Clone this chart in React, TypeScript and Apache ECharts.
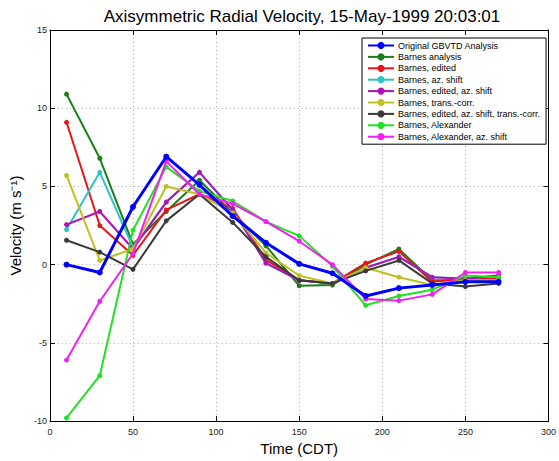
import React, { useEffect, useRef } from "react";
import * as echarts from "echarts";

const times = [10, 30, 50, 70, 90, 110, 130, 150, 170, 190, 210, 230, 250, 270];

const seriesNames = [
  "Original GBVTD Analysis",
  "Barnes analysis",
  "Barnes, edited",
  "Barnes, az. shift",
  "Barnes, edited, az. shift",
  "Barnes, trans.-corr.",
  "Barnes, edited, az. shift, trans.-corr.",
  "Barnes, Alexander",
  "Barnes, Alexander, az. shift",
];

const originalGbvtd = [0, -0.5, 3.7, 6.9, 5.1, 3.1, 1.4, 0.05, -0.55, -2.0, -1.5, -1.3, -1.1, -1.1];
const barnesAnalysis = [10.9, 6.8, 1.3, 3.4, 5.4, 3.3, 1.2, -1.35, -1.3, 0.0, 1.0, -1.0, -1.0, -0.9];
const barnesEdited = [9.1, 2.5, 0.6, 3.5, 4.5, 3.6, 0.3, -1.0, -1.2, 0.1, 0.85, -1.1, -0.9, -0.9];
const barnesAzShift = [2.25, 5.9, 1.1, 4.0, 5.9, 3.5, 0.1, -1.0, -1.2, -0.2, 0.5, -0.8, -0.9, -0.7];
const barnesEditedAzShift = [2.56, 3.4, 1.0, 4.0, 5.9, 3.5, 0.1, -1.0, -1.2, -0.2, 0.5, -0.8, -0.9, -0.7];
const barnesTransCorr = [5.7, 0.27, 1.0, 5.0, 4.5, 3.3, 0.75, -0.7, -1.2, -0.2, -0.8, -1.3, -1.0, -1.0];
const barnesEditedAzTrans = [1.56, 0.8, -0.3, 2.8, 4.5, 2.7, 0.5, -1.0, -1.2, -0.4, 0.27, -1.2, -1.4, -1.2];
const barnesAlexander = [-9.8, -7.1, 2.2, 6.25, 4.7, 4.07, 2.75, 1.84, -0.1, -2.6, -2.0, -1.6, -0.7, -0.8];
const barnesAlexanderAzShift = [-6.1, -2.34, 0.7, 6.6, 4.5, 3.9, 2.75, 1.5, 0.0, -2.2, -2.3, -1.9, -0.5, -0.5];

const allValues = [
  originalGbvtd,
  barnesAnalysis,
  barnesEdited,
  barnesAzShift,
  barnesEditedAzShift,
  barnesTransCorr,
  barnesEditedAzTrans,
  barnesAlexander,
  barnesAlexanderAzShift,
];

const colors = ["#0000ff", "#1a7f1a", "#e8141a", "#2fc4c4", "#b010b8", "#c0c020", "#3a3a3a", "#22e022", "#f020f0"];

const xTicks = { min: 0, max: 300, interval: 50 };
const yTicks = { min: -10, max: 15, interval: 5 };

const FONT = "Liberation Sans, Arial, Helvetica, sans-serif";

export default function App() {
  const ref = useRef<HTMLDivElement>(null);
  useEffect(() => {
    if (!ref.current) return;
    const chart = echarts.init(ref.current, undefined, { renderer: "svg" });
    const gridLine = { show: true, lineStyle: { color: "#b0b0b0", type: [1, 3], width: 1 } };
    const series = seriesNames.map((name, i) => ({
      name,
      type: "line",
      data: times.map((t, k) => [t, allValues[i][k]]),
      symbol: "circle",
      symbolSize: i === 0 ? 6 : 5,
      z: i === 0 ? 20 : 2 + i,
      lineStyle: { width: i === 0 ? 3 : 2, color: colors[i] },
      itemStyle: { color: colors[i] },
      emphasis: { disabled: true },
    }));
    const boxLine = { show: true, onZero: false, lineStyle: { color: "#000", width: 1 } };
    const tick = { show: true, inside: true, length: 5, lineStyle: { color: "#000" } };
    chart.setOption({
      animation: false,
      textStyle: { fontFamily: FONT },
      title: {
        text: "Axisymmetric Radial Velocity, 15-May-1999 20:03:01",
        left: 297,
        textAlign: "center",
        top: 3,
        textStyle: { fontSize: 17, fontWeight: "normal", color: "#000", fontFamily: FONT },
      },
      legend: {
        orient: "vertical",
        left: 362,
        top: 38,
        itemWidth: 26,
        itemHeight: 9,
        itemGap: 2.4,
        padding: [3, 6, 3, 5],
        backgroundColor: "#fff",
        borderColor: "#000",
        borderWidth: 1,
        borderRadius: 0,
        textStyle: { fontSize: 9, color: "#000", fontFamily: FONT, lineHeight: 9, padding: [0, 0, 0, -1] },
        data: seriesNames,
      },
      grid: { left: 44, right: 9, top: 30, bottom: 31, containLabel: false },
      xAxis: [
        {
          type: "value",
          ...xTicks,
          name: "Time (CDT)",
          nameLocation: "middle",
          nameGap: 18,
          nameTextStyle: { fontSize: 15, color: "#000", fontFamily: FONT },
          axisLine: boxLine,
          axisTick: tick,
          axisLabel: { fontSize: 9, color: "#222", margin: 6, fontFamily: FONT },
          splitLine: gridLine,
        },
        {
          type: "value",
          ...xTicks,
          position: "top",
          axisLine: boxLine,
          axisTick: tick,
          axisLabel: { show: false },
          splitLine: { show: false },
        },
      ],
      yAxis: [
        {
          type: "value",
          ...yTicks,
          name: "Velocity (m s⁻¹)",
          nameLocation: "middle",
          nameGap: 19,
          nameTextStyle: { fontSize: 15, color: "#000", fontFamily: FONT },
          axisLine: boxLine,
          axisTick: tick,
          axisLabel: { fontSize: 9, color: "#222", margin: 3, fontFamily: FONT },
          splitLine: gridLine,
        },
        {
          type: "value",
          ...yTicks,
          position: "right",
          axisLine: boxLine,
          axisTick: tick,
          axisLabel: { show: false },
          splitLine: { show: false },
        },
      ],
      series,
    });
    return () => chart.dispose();
  }, []);
  return <div ref={ref} style={{ width: 559, height: 461, position: "absolute", left: 0, top: 0, background: "#fff" }} />;
}
